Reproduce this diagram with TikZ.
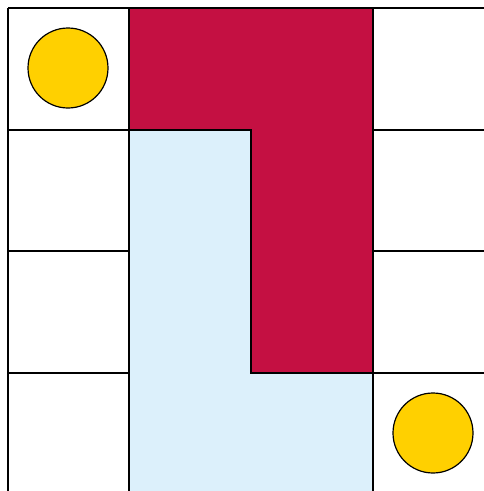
\documentclass[tikz,border=0pt]{standalone}
\definecolor{crim}{HTML}{C41042}
\definecolor{pale}{HTML}{DCF0FB}
\definecolor{gold}{HTML}{FFD000}
\begin{document}
\begin{tikzpicture}[x=1pt,y=-1pt,
  gridline/.style={line width=2pt,black},
  token/.style={circle,draw=black,line width=1.2pt,fill=gold,minimum size=80pt,inner sep=0pt}]
\useasboundingbox (0,0) rectangle (484,491);
% regions
\fill[crim] (129,8) -- (373,8) -- (373,373) -- (251,373) -- (251,130) -- (129,130) -- cycle;
\fill[pale] (129,130) -- (251,130) -- (251,373) -- (373,373) -- (373,491) -- (129,491) -- cycle;
% grid lines
\draw[gridline] (8,8) -- (484,8);
\draw[gridline] (8,8) -- (8,491);
\draw[gridline] (129,8) -- (129,491);
\draw[gridline] (373,8) -- (373,491);
\draw[gridline] (8,130) -- (251,130) -- (251,373) -- (484,373);
\draw[gridline] (8,251) -- (129,251);
\draw[gridline] (8,373) -- (129,373);
\draw[gridline] (373,130) -- (484,130);
\draw[gridline] (373,251) -- (484,251);
% tokens
\node[token] (t1) at (68,68) {};
\node[token] (t2) at (433,433) {};
\end{tikzpicture}
\end{document}
